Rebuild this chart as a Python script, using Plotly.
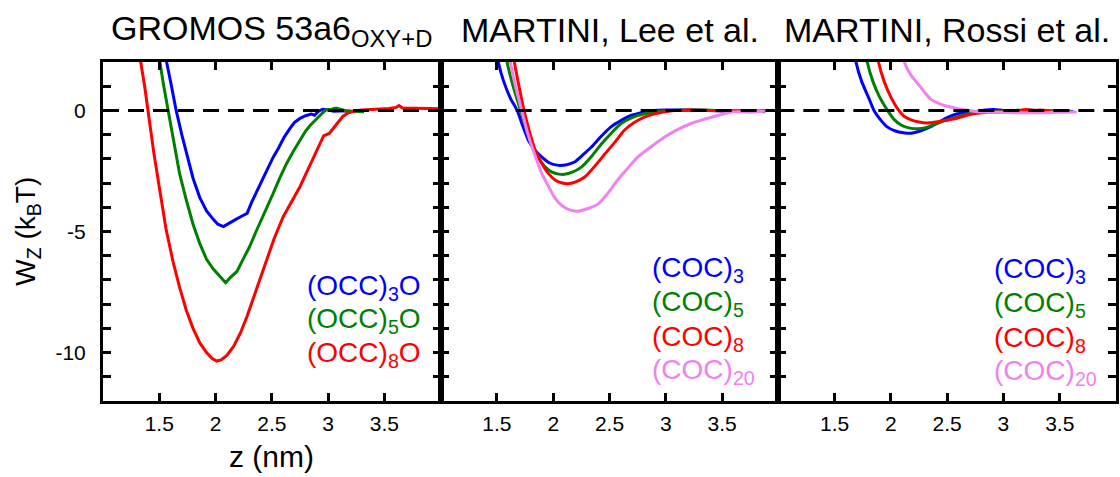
import plotly.graph_objects as go

# ---------------- data ----------------
# Panel 1: GROMOS 53a6 OXY+D
g_occ3_x = [1.52, 1.565, 1.60, 1.65, 1.70, 1.75, 1.80, 1.86, 1.92, 1.98, 2.02, 2.07, 2.12, 2.18, 2.24, 2.28,
            2.32, 2.36, 2.42, 2.47, 2.51, 2.56, 2.61, 2.66, 2.70, 2.75, 2.80, 2.85, 2.88, 2.91, 2.95, 3.00,
            3.05, 3.10, 3.15, 3.20]
g_occ3_y = [3.5, 2.0, 1.2, 0.0, -1.0, -1.9, -2.8, -3.6, -4.15, -4.5, -4.7, -4.8, -4.65, -4.5, -4.35, -4.25,
            -3.8, -3.4, -2.85, -2.35, -1.95, -1.55, -1.1, -0.75, -0.5, -0.33, -0.22, -0.15, -0.2, -0.05, 0.05, 0.02,
            -0.03, -0.02, -0.03, -0.02]

g_occ5_x = [1.47, 1.505, 1.54, 1.58, 1.63, 1.68, 1.74, 1.80, 1.86, 1.92, 1.98, 2.03, 2.09, 2.13, 2.19, 2.25,
            2.30, 2.36, 2.42, 2.47, 2.51, 2.57, 2.63, 2.69, 2.75, 2.80, 2.84, 2.88, 2.93, 2.98, 3.03, 3.07,
            3.12, 3.17, 3.22, 3.28, 3.32]
g_occ5_y = [3.5, 2.0, 1.0, 0.0, -1.4, -2.6, -3.7, -4.7, -5.5, -6.15, -6.55, -6.8, -7.12, -6.9, -6.65, -6.1,
            -5.65, -5.0, -4.4, -3.85, -3.45, -2.8, -2.2, -1.7, -1.25, -0.85, -0.62, -0.45, -0.2, 0.03, 0.05, 0.1,
            0.05, -0.03, -0.03, -0.06, -0.05]

g_occ8_x = [1.30, 1.335, 1.37, 1.40, 1.45, 1.51, 1.56, 1.62, 1.68, 1.74, 1.80, 1.86, 1.92, 1.97, 2.01, 2.05,
            2.10, 2.16, 2.22, 2.28, 2.33, 2.39, 2.45, 2.52, 2.60, 2.67, 2.75, 2.81, 2.87, 2.92, 2.96, 3.01,
            3.05, 3.09, 3.13, 3.18, 3.24, 3.30, 3.36, 3.42, 3.48, 3.54, 3.60, 3.63, 3.66, 3.72, 3.78, 3.84,
            3.90, 3.96, 4.00]
g_occ8_y = [3.5, 2.0, 1.0, 0.0, -1.7, -3.45, -4.9, -6.2, -7.3, -8.25, -9.0, -9.6, -10.0, -10.25, -10.35, -10.3,
            -10.12, -9.75, -9.2, -8.5, -7.85, -7.05, -6.2, -5.3, -4.4, -3.8, -3.15, -2.55, -1.95, -1.45, -1.05, -0.95,
            -0.7, -0.45, -0.25, -0.1, -0.02, 0.02, 0.03, 0.05, 0.06, 0.08, 0.12, 0.2, 0.1, 0.1, 0.08, 0.1,
            0.07, 0.08, 0.07]

# Panel 2: MARTINI, Lee et al.
l_coc3_x = [1.48, 1.515, 1.56, 1.62, 1.68, 1.73, 1.78, 1.84, 1.90, 1.96, 2.01, 2.06, 2.12, 2.19, 2.26, 2.34,
            2.42, 2.51, 2.60, 2.69, 2.79, 2.89, 3.00, 3.20, 3.40, 3.60, 3.75, 3.88]
l_coc3_y = [3.0, 1.94, 1.2, 0.5, 0.0, -0.65, -1.24, -1.65, -1.93, -2.15, -2.24, -2.27, -2.24, -2.13, -1.85, -1.51,
            -1.1, -0.69, -0.42, -0.21, -0.08, 0.0, 0.02, 0.02, 0.0, -0.03, -0.02, -0.05]

l_coc5_x = [1.56, 1.59, 1.65, 1.71, 1.76, 1.81, 1.87, 1.93, 1.99, 2.05, 2.10, 2.17, 2.25, 2.34, 2.43, 2.52,
            2.60, 2.70, 2.81, 2.92, 3.04, 3.30, 3.60, 3.75, 3.90]
l_coc5_y = [3.0, 2.0, 0.9, 0.0, -0.75, -1.38, -1.95, -2.34, -2.55, -2.63, -2.64, -2.55, -2.34, -1.9, -1.38, -0.92,
            -0.55, -0.3, -0.14, -0.05, 0.0, 0.02, -0.02, -0.05, 0.0]

l_coc8_x = [1.63, 1.655, 1.70, 1.74, 1.79, 1.84, 1.90, 1.96, 2.02, 2.08, 2.13, 2.20, 2.28, 2.37, 2.46, 2.55,
            2.63, 2.72, 2.81, 2.92, 3.04, 3.20, 3.40, 3.60, 3.75, 3.88]
l_coc8_y = [3.0, 2.0, 0.9, 0.0, -0.9, -1.65, -2.2, -2.62, -2.88, -3.0, -3.03, -2.95, -2.75, -2.3, -1.79, -1.3,
            -0.83, -0.5, -0.28, -0.12, -0.02, 0.02, 0.0, -0.02, -0.03, -0.02]

l_coc20_x = [1.60, 1.62, 1.67, 1.72, 1.77, 1.83, 1.90, 1.96, 2.01, 2.07, 2.14, 2.22, 2.31, 2.40, 2.48, 2.57,
             2.66, 2.75, 2.87, 2.99, 3.10, 3.22, 3.33, 3.43, 3.52, 3.60, 3.70, 3.80, 3.88]
l_coc20_y = [3.0, 2.0, 0.9, 0.0, -0.9, -1.75, -2.62, -3.15, -3.58, -3.9, -4.1, -4.16, -4.05, -3.86, -3.45, -2.89,
             -2.4, -1.93, -1.5, -1.1, -0.8, -0.55, -0.38, -0.25, -0.14, -0.06, -0.05, -0.05, -0.03]

# Panel 3: MARTINI, Rossi et al.
r_coc3_x = [1.66, 1.69, 1.74, 1.80, 1.85, 1.91, 1.97, 2.04, 2.11, 2.18, 2.26, 2.33, 2.42, 2.50, 2.59, 2.68,
            2.76, 2.84, 2.91, 3.00, 3.10, 3.20, 3.30, 3.40, 3.50, 3.62]
r_coc3_y = [3.0, 2.0, 1.2, 0.55, 0.0, -0.4, -0.69, -0.85, -0.92, -0.94, -0.85, -0.72, -0.5, -0.3, -0.14, -0.08,
            -0.04, 0.02, 0.04, 0.0, -0.02, -0.03, 0.0, -0.02, -0.03, -0.04]

r_coc5_x = [1.76, 1.79, 1.84, 1.90, 1.97, 2.03, 2.09, 2.16, 2.24, 2.32, 2.40, 2.48, 2.57, 2.65, 2.74, 2.82,
            2.92, 3.00, 3.10, 3.20, 3.30, 3.40, 3.50, 3.60]
r_coc5_y = [3.0, 2.0, 1.2, 0.55, 0.0, -0.38, -0.6, -0.72, -0.76, -0.7, -0.56, -0.42, -0.3, -0.18, -0.11, -0.08,
            -0.04, -0.02, 0.0, 0.02, 0.0, -0.02, -0.02, -0.03]

r_coc8_x = [1.86, 1.89, 1.94, 2.00, 2.07, 2.12, 2.18, 2.25, 2.32, 2.40, 2.48, 2.55, 2.64, 2.72, 2.78, 2.88,
            2.98, 3.08, 3.15, 3.21, 3.27, 3.33, 3.38, 3.42]
r_coc8_y = [3.0, 2.0, 1.2, 0.55, 0.0, -0.25, -0.39, -0.48, -0.52, -0.48, -0.42, -0.36, -0.25, -0.15, -0.11, -0.08,
            -0.06, -0.07, 0.0, 0.04, 0.0, 0.02, 0.0, -0.03]

r_coc20_x = [2.10, 2.12, 2.18, 2.24, 2.30, 2.35, 2.42, 2.48, 2.53, 2.59, 2.65, 2.72, 2.82, 2.95, 3.10, 3.25,
             3.35, 3.45, 3.55, 3.65]
r_coc20_y = [3.0, 2.0, 1.45, 1.1, 0.75, 0.48, 0.3, 0.2, 0.14, 0.08, 0.03, -0.02, -0.07, -0.08, -0.1, -0.1,
             -0.1, -0.08, -0.08, -0.07]

panel_titles = ["GROMOS 53a6<sub>OXY+D</sub>", "MARTINI, Lee et al.", "MARTINI, Rossi et al."]
x_tick_vals = [1.5, 2, 2.5, 3, 3.5]
x_tick_text = ["1.5", "2", "2.5", "3", "3.5"]
y_tick_vals = list(range(-12, 3))
y_tick_text = ["" if v % 5 else str(v) for v in y_tick_vals]

BLUE, GREEN, RED, VIOLET = "#0000FF", "#008000", "#FF0000", "#EE82EE"

panels = [
    [(g_occ3_x, g_occ3_y, BLUE, "(OCC)<sub>3</sub>O"),
     (g_occ5_x, g_occ5_y, GREEN, "(OCC)<sub>5</sub>O"),
     (g_occ8_x, g_occ8_y, RED, "(OCC)<sub>8</sub>O")],
    [(l_coc3_x, l_coc3_y, BLUE, "(COC)<sub>3</sub>"),
     (l_coc5_x, l_coc5_y, GREEN, "(COC)<sub>5</sub>"),
     (l_coc8_x, l_coc8_y, RED, "(COC)<sub>8</sub>"),
     (l_coc20_x, l_coc20_y, VIOLET, "(COC)<sub>20</sub>")],
    [(r_coc3_x, r_coc3_y, BLUE, "(COC)<sub>3</sub>"),
     (r_coc5_x, r_coc5_y, GREEN, "(COC)<sub>5</sub>"),
     (r_coc8_x, r_coc8_y, RED, "(COC)<sub>8</sub>"),
     (r_coc20_x, r_coc20_y, VIOLET, "(COC)<sub>20</sub>")],
]
line_shapes = ["linear", "spline", "spline"]

# ---------------- layout geometry ----------------
W, H = 1120, 477
ML, MR, MT, MB = 103, 1, 62, 76
PW = W - ML - MR
PH = H - MT - MB

def px2paper_x(px):
    return (px - ML) / PW

def py2paper_y(py):
    return (H - MB - py) / PH

FONT = "Liberation Sans, Arial, Helvetica, sans-serif"

fig = go.Figure()
annotations = []
shapes = []
domains = [[0, 1/3], [1/3, 2/3], [2/3, 1]]
legend_left_px = [306, 652, 995]
legend_rows_py = [[287, 320, 354], [269, 303, 338, 371], [270, 304, 339, 372]]

for i, series in enumerate(panels):
    xa = "x" if i == 0 else f"x{i+1}"
    ya = "y" if i == 0 else f"y{i+1}"
    for (xs, ys, col, name) in series:
        fig.add_trace(go.Scatter(x=xs, y=ys, mode="lines", xaxis=xa, yaxis=ya,
                                 line=dict(color=col, width=3, shape=line_shapes[i], smoothing=0.5),
                                 showlegend=False, hoverinfo="skip"))
    # zero reference line
    shapes.append(dict(type="line", xref=f"{xa} domain", yref=ya, x0=0, x1=1, y0=0, y1=0,
                       line=dict(color="black", width=3, dash="16px,9px"), layer="above"))
    # title
    annotations.append(dict(text=panel_titles[i], xref=f"{xa} domain", yref="paper",
                            x=0.5, y=py2paper_y(30), xanchor="center", yanchor="middle",
                            showarrow=False, font=dict(family=FONT, size=34, color="black")))
    # labels
    for j, (xs, ys, col, name) in enumerate(series):
        annotations.append(dict(text=name, xref="paper", yref="paper",
                                x=px2paper_x(legend_left_px[i]), y=py2paper_y(legend_rows_py[i][j]),
                                xanchor="left", yanchor="middle", showarrow=False,
                                font=dict(family=FONT, size=28, color=col)))

axis_common = dict(showline=True, linecolor="black", linewidth=3, mirror="ticks",
                   ticks="inside", ticklen=8, tickwidth=3, tickcolor="black",
                   showgrid=False, zeroline=False)

for i in range(3):
    sfx = "" if i == 0 else str(i + 1)
    fig.update_layout(**{
        f"xaxis{sfx}": dict(axis_common, domain=domains[i], range=[1, 4],
                            tickvals=x_tick_vals, ticktext=x_tick_text,
                            tickfont=dict(family=FONT, size=21, color="black"),
                            ticklabelstandoff=2, anchor=f"y{sfx}"),
        f"yaxis{sfx}": dict(axis_common, range=[-12, 2], tickvals=y_tick_vals, ticktext=y_tick_text,
                            showticklabels=(i == 0),
                            tickfont=dict(family=FONT, size=21, color="black"),
                            ticklabelstandoff=10, anchor=f"x{sfx}"),
    })

# axis titles
annotations.append(dict(text="z (nm)", xref="x domain", yref="paper", x=0.5, y=py2paper_y(456),
                        xanchor="center", yanchor="middle", showarrow=False,
                        font=dict(family=FONT, size=30, color="black")))
annotations.append(dict(text="W<sub>Z</sub> (k<sub>B</sub>T)", xref="paper", yref="paper",
                        x=px2paper_x(27), y=0.5, xanchor="center", yanchor="middle",
                        textangle=-90, showarrow=False,
                        font=dict(family=FONT, size=28, color="black")))

fig.update_layout(width=W, height=H, margin=dict(l=ML, r=MR, t=MT, b=MB),
                  plot_bgcolor="white", paper_bgcolor="white",
                  annotations=annotations, shapes=shapes, showlegend=False)

fig.write_html("out.html")
